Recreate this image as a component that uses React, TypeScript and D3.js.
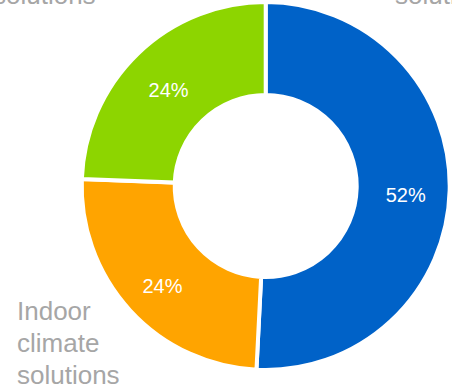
import React from "react";
import * as d3 from "d3";

const categories = ["Blue segment solutions", "Indoor climate solutions", "Green segment solutions"];
const values = [50.8, 24.8, 24.4];
const valueLabels = ["52%", "24%", "24%"];
const colors = ["#0062c8", "#ffa400", "#8dd500"];

const W = 452;
const H = 387;

export default function App() {
  React.useEffect(() => {
    document.body.style.margin = "0";
  }, []);
  const cx = 265.7;
  const cy = 186;
  const outer = 184;
  const inner = 91;
  const pie = d3.pie<number>().sort(null).value((d) => d)(values);
  const arc = d3.arc<d3.PieArcDatum<number>>().innerRadius(inner).outerRadius(outer);
  const labelArc = d3.arc<d3.PieArcDatum<number>>().innerRadius(140).outerRadius(140);
  const font = "'Liberation Sans', Arial, sans-serif";
  return (
    <svg width={W} height={H} style={{ position: "absolute", left: 0, top: 0, display: "block" }}>
      <rect width={W} height={H} fill="#ffffff" />
      <g transform={`translate(${cx},${cy})`}>
        {pie.map((p, i) => (
          <path key={i} d={arc(p) || ""} fill={colors[i]} stroke="#ffffff" strokeWidth={4} />
        ))}
        {pie.map((p, i) => {
          const [x, y] = labelArc.centroid(p);
          return (
            <text
              key={"l" + i}
              x={x}
              y={y + 5}
              textAnchor="middle"
              dominantBaseline="central"
              fill="#ffffff"
              fontFamily={font}
              fontSize={20}
            >
              {valueLabels[i]}
            </text>
          );
        })}
      </g>
      <g fontFamily={font} fontSize={26} fill="#a6a6a6">
        <text x={-7} y={4}>solutions</text>
        <text x={395} y={4}>solutions</text>
        <text x={17} y={320}>Indoor</text>
        <text x={17} y={352}>climate</text>
        <text x={17} y={384}>solutions</text>
      </g>
    </svg>
  );
}
